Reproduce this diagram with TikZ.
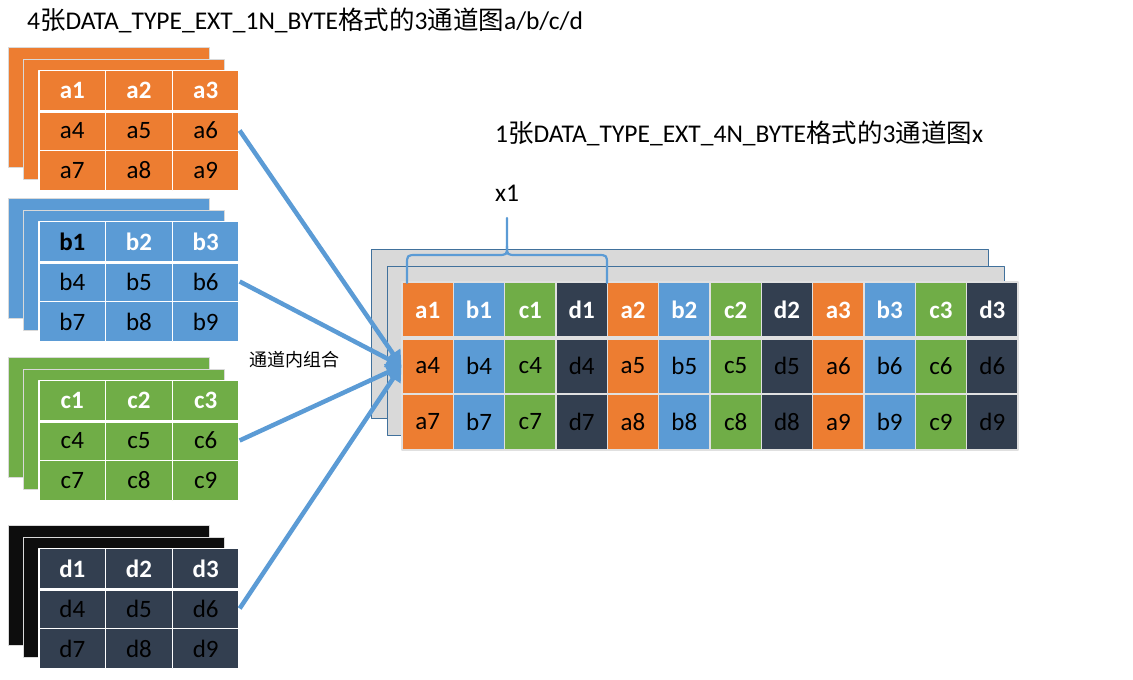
\documentclass[tikz,border=0pt]{standalone}
\usepackage{fontspec}
\setmainfont{Carlito}
\newfontfamily\cjk{Noto Sans CJK SC}
\usetikzlibrary{arrows.meta}
\definecolor{corange}{HTML}{ED7D31}
\definecolor{cblue}{HTML}{5B9BD5}
\definecolor{cgreen}{HTML}{70AD47}
\definecolor{cnavy}{HTML}{333F50}
\definecolor{cblack}{HTML}{0D0D0D}
\definecolor{cedge}{HTML}{41719C}
\newcommand{\zh}[1]{{\cjk #1}}
\newcommand{\cellfont}{\fontsize{25}{28}\selectfont}
\tikzset{
  cell/.style={draw=white, line width=1.2pt, minimum width=66.7pt, minimum height=40pt, inner sep=0pt},
  bigcell/.style={cell, draw=white!88!black, minimum width=51.33pt, minimum height=56pt},
  sheet/.style={draw=white!85!black, line width=0.8pt},
  graysheet/.style={fill=black!15, draw=cedge, line width=0.8pt},
  flow/.style={cblue, line width=4.5pt, -{Triangle[length=15pt,width=17pt]}},
  brace/.style={cblue, line width=2.2pt, line cap=round},
  lbl/.style={font=\fontsize{25.5}{28}\selectfont, inner sep=0pt}
}
\begin{document}
\begin{tikzpicture}[x=1pt, y=-1pt, line join=round]
\useasboundingbox (0,0) rectangle (1133,680);
% titles
\node[lbl, anchor=west] (titlea) at (27,20) {4\zh{张}DATA\_TYPE\_EXT\_1N\_BYTE\zh{格式的}3\zh{通道图}a/b/c/d};
\node[lbl, anchor=west] (titlex) at (495,133) {1\zh{张}DATA\_TYPE\_EXT\_4N\_BYTE\zh{格式的}3\zh{通道图}x};
\node[lbl] (xone) at (507,193) {x1};
% four 3x3 inputs
\foreach \g/\y/\col/\bk in {a/71/corange/corange, b/222/cblue/cblue, c/381/cgreen/cgreen, d/549/cnavy/cblack}{
  \filldraw[sheet, fill=\bk] (8,\y-24) rectangle ++(201,120);
  \filldraw[sheet, fill=\bk] (23,\y-12) rectangle ++(201,120);
  \foreach \r in {0,1,2}
  \foreach \c in {0,1,2}{
    \pgfmathtruncatemacro\n{3*\r+\c+1}
    \ifnum\r=0 \def\tf{\bfseries}\def\tc{white}\else\def\tf{}\def\tc{black}\fi
    \ifnum\n=1 \if\g b\def\tc{black}\fi\fi
    \node[cell, fill=\col, text=\tc, font=\cellfont\tf] (\g\n) at ({72.3+66.7*\c},{\y+19.5+40*\r}) {\g\n};
  }
  \draw[white, line width=3pt] (39,\y+40) -- (239,\y+40);
}
% output x
\filldraw[graysheet] (371,249) rectangle (988,418);
\filldraw[graysheet] (387,266) rectangle (1004,435);
\foreach \r in {0,1,2}
\foreach \k in {0,...,11}{
  \pgfmathtruncatemacro\m{mod(\k,4)}
  \pgfmathtruncatemacro\n{3*\r+int(\k/4)+1}
  \ifcase\m \def\g{a}\def\col{corange}\or \def\g{b}\def\col{cblue}\or \def\g{c}\def\col{cgreen}\or \def\g{d}\def\col{cnavy}\fi
  \ifnum\r=0 \def\tf{\bfseries}\def\tc{white}\else\def\tf{}\def\tc{black}\fi
  \node[bigcell, fill=\col, text=\tc, font=\cellfont\tf] (x\g\n) at ({427.7+51.33*\k},{310+56*\r}) {\g\n};
}
\draw[white!88!black, line width=3.5pt] (402,338) -- (1018,338);
% brace over a1..d1
\draw[brace] (407,283) -- (407,265) .. controls (407,255) .. (417,255) -- (497,255) .. controls (507,255) .. (507,246) -- (507,218);
\draw[brace] (507,246) .. controls (507,255) .. (517,255) -- (597,255) .. controls (607,255) .. (607,265) -- (607,283);
% arrows
\foreach \g in {a,b,c,d}
  \draw[flow] (\g6.east) -- (xa4.west);
\node[font=\fontsize{18}{20}\selectfont\cjk] (mix) at (294,360) {通道内组合};
\end{tikzpicture}
\end{document}
